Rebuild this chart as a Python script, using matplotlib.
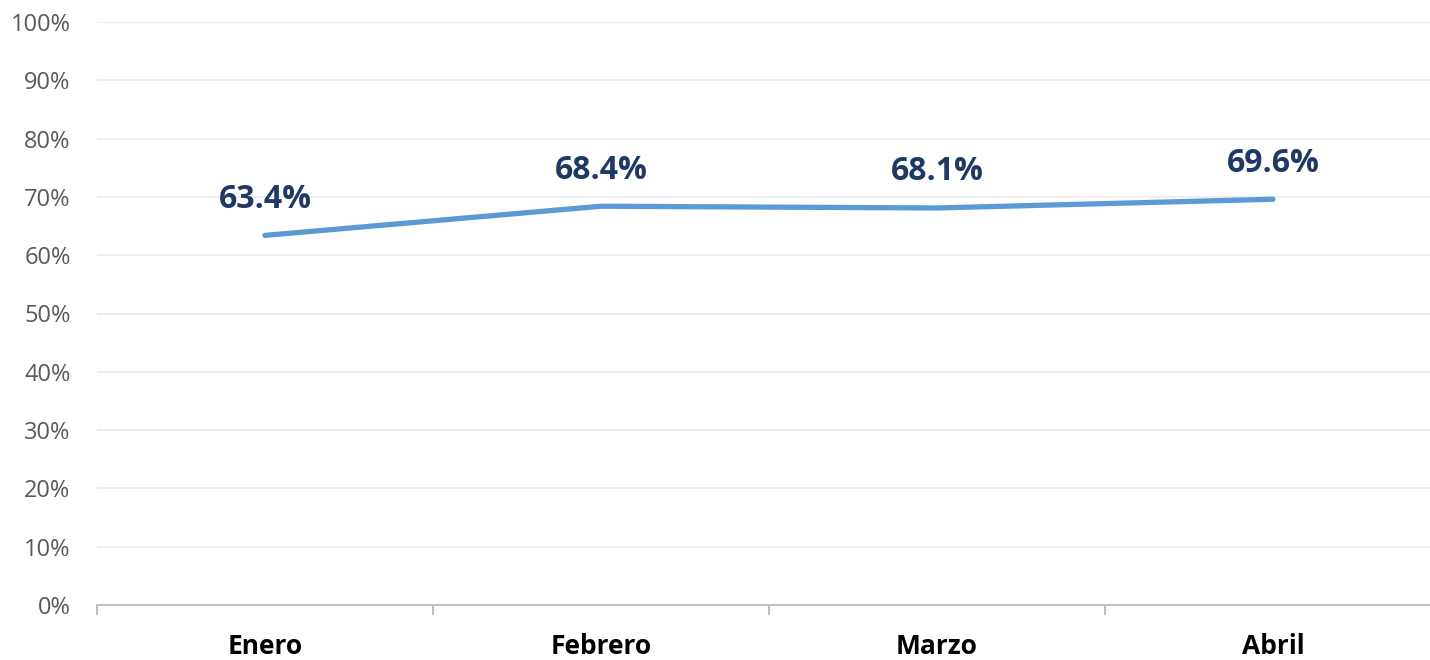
import numpy as np
import matplotlib.pyplot as plt
from matplotlib.ticker import FixedLocator, PercentFormatter

months = ['Enero', 'Febrero', 'Marzo', 'Abril']
values = [63.4, 68.4, 68.1, 69.6]
labels = ['63.4%', '68.4%', '68.1%', '69.6%']

plt.rcParams['font.family'] = ['Open Sans', 'DejaVu Sans']

fig = plt.figure(figsize=(14.3, 6.6), dpi=100)
ax = fig.add_axes([97/1430, 1-605/660, 1-97/1430, 583/660])

x = np.arange(len(months))
ax.plot(x, values, color='#5B9BD5', linewidth=3.8, solid_capstyle='round', zorder=3)
for xi, v, t in zip(x, values, labels):
    ax.annotate(t, (xi, v), xytext=(0, 26), textcoords='offset points',
                ha='center', va='center', fontsize=23, fontweight='bold', color='#1F3864')

ax.set_ylim(0, 100)
ax.set_xlim(-0.5, 3.5 - 11/336)
ax.set_yticks(np.arange(0, 101, 10))
ax.yaxis.set_major_formatter(PercentFormatter(decimals=0))
ax.grid(axis='y', color='#EBEBEB', linewidth=1.2)
ax.set_axisbelow(True)

ax.set_xticks(x)
ax.set_xticklabels(months, fontsize=19, fontweight='bold', color='black')
ax.xaxis.set_minor_locator(FixedLocator([-0.5, 0.5, 1.5, 2.5]))
ax.tick_params(axis='x', which='major', length=0, pad=20)
ax.tick_params(axis='x', which='minor', length=7, width=1.5, color='#BFBFBF')
ax.tick_params(axis='y', length=0, pad=19, labelsize=17, labelcolor='#595959')

for s in ['top', 'right', 'left']:
    ax.spines[s].set_visible(False)
ax.spines['bottom'].set_color('#BFBFBF')
ax.spines['bottom'].set_linewidth(1.5)

fig.savefig('out.png', dpi=100)
